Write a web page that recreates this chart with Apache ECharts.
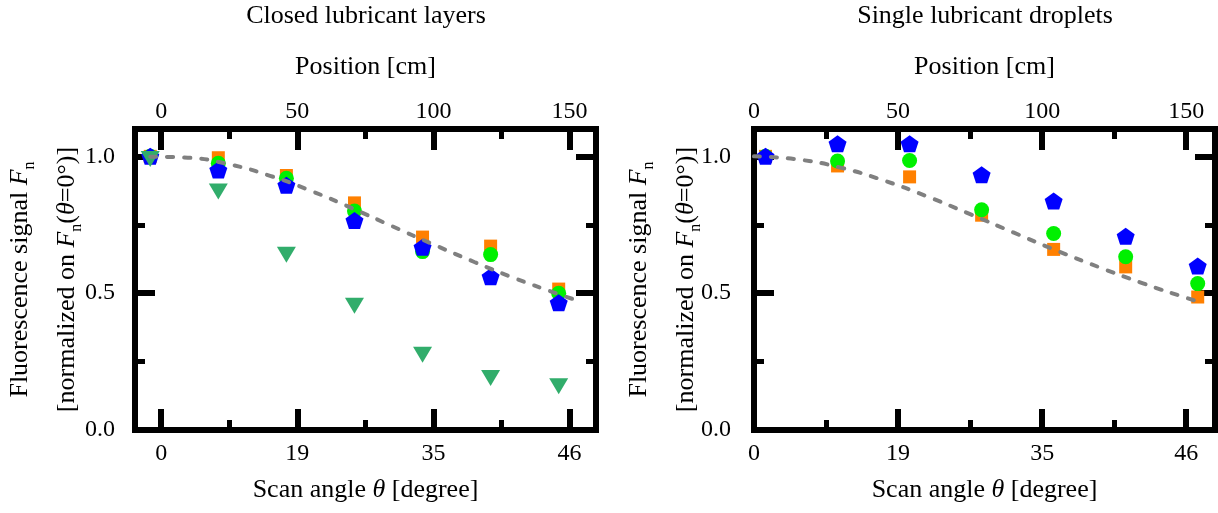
<!DOCTYPE html>
<html><head><meta charset="utf-8">
<script src="https://cdn.jsdelivr.net/npm/echarts@6/dist/echarts.min.js"></script>
<style>html,body{margin:0;padding:0;background:#fff}#c{width:1218px;height:513px}</style>
</head><body><div id="c"></div>
<script>
// ---- data ----
const panelTitles = ['Closed lubricant layers', 'Single lubricant droplets'];
const posTicks = [0, 50, 100, 150];
const posMinorTicks = [25, 75, 125];
const angleLabels = ['0', '19', '35', '46'];
const yTicks = [0, 0.5, 1.0];
const yMinorTicks = [0.25, 0.75];

// Closed lubricant layers (left)
const posLeft = [-4, 21, 46, 71, 96, 121, 146];
const leftSquares   = [1.000, 0.995, 0.930, 0.830, 0.705, 0.672, 0.515];
const leftCircles   = [1.000, 0.975, 0.920, 0.800, 0.652, 0.641, 0.500];
const leftPentagons = [1.000, 0.950, 0.894, 0.766, 0.668, 0.560, 0.465];
const leftTriangles = [0.990, 0.872, 0.640, 0.454, 0.275, 0.190, 0.160];
const curveLeftX = [-4, 10, 25, 40, 55, 70, 85, 100, 115, 130, 145, 152];
const curveLeftY = [0.999, 0.995, 0.971, 0.929, 0.874, 0.811, 0.744, 0.678, 0.614, 0.554, 0.500, 0.476];

// Single lubricant droplets (right)
const posRight = [4, 29, 54, 79, 104, 129, 154];
const rightSquares   = [1.000, 0.965, 0.925, 0.785, 0.660, 0.596, 0.486];
const rightCircles   = [1.000, 0.983, 0.985, 0.805, 0.718, 0.633, 0.535];
const rightPentagons = [1.000, 1.046, 1.046, 0.933, 0.837, 0.708, 0.599];
const curveRightX = [0, 15, 30, 45, 60, 75, 90, 105, 120, 135, 150, 156];
const curveRightY = [1.000, 0.989, 0.959, 0.912, 0.854, 0.789, 0.722, 0.656, 0.594, 0.536, 0.483, 0.464];

// ---- styling ----
const FF = "'Liberation Serif', 'Times New Roman', serif";
const BLACK = '#000';
const zip = (xs, ys) => xs.map((x, i) => [x, ys[i]]);
const pentagonPath = 'path://M0,-1 L0.951,-0.309 L0.588,0.809 L-0.588,0.809 L-0.951,-0.309 Z';

const richBase = {
  i: { fontFamily: FF, fontSize: 26, fontStyle: 'italic', color: BLACK },
  sub: { fontFamily: FF, fontSize: 16, color: BLACK, padding: [18, 0, 0, 0] }
};

const grids = [
  { left: 135, top: 129, width: 461, height: 301, xMin: -9.6, xMax: 159.7, yLabelMargin: 20 },
  { left: 754, top: 129, width: 461, height: 301, xMin: 0, xMax: 160, yLabelMargin: 23 }
];

const lineStyleFrame = { color: BLACK, width: 6, cap: 'square' };

function xAxesFor(gi, g) {
  const common = { type: 'value', gridIndex: gi, min: g.xMin, max: g.xMax, splitLine: { show: false }, nameMoveOverlap: false };
  const major = (position, labels) => Object.assign({}, common, {
    position,
    axisLine: { show: true, onZero: false, lineStyle: lineStyleFrame },
    axisTick: { show: true, inside: true, length: 21, lineStyle: { color: BLACK, width: 6 }, customValues: posTicks },
    axisLabel: labels
  });
  const minor = (position) => Object.assign({}, common, {
    position,
    axisLine: { show: false, onZero: false },
    axisTick: { show: true, inside: true, length: 10, lineStyle: { color: BLACK, width: 5 }, customValues: posMinorTicks },
    axisLabel: { show: false }
  });
  const bottom = major('bottom', {
    show: true, margin: 12, customValues: posTicks, color: BLACK, fontFamily: FF, fontSize: 24,
    formatter: v => angleLabels[posTicks.indexOf(v)]
  });
  bottom.name = 'Scan angle {i|θ} [degree]';
  bottom.nameLocation = 'middle';
  bottom.nameGap = 47;
  bottom.nameTextStyle = { color: BLACK, fontFamily: FF, fontSize: 26, lineHeight: 26, rich: richBase };
  const top = major('top', {
    show: true, margin: 5, customValues: posTicks, color: BLACK, fontFamily: FF, fontSize: 24,
    formatter: v => String(v)
  });
  top.name = 'Position [cm]';
  top.nameLocation = 'middle';
  top.nameGap = 49;
  top.nameTextStyle = { color: BLACK, fontFamily: FF, fontSize: 26, lineHeight: 26 };
  return [bottom, minor('bottom'), top, minor('top')];
}

function yAxesFor(gi, g) {
  const common = { type: 'value', gridIndex: gi, min: 0, max: 1.1, splitLine: { show: false }, nameMoveOverlap: false };
  const major = (position, labels) => Object.assign({}, common, {
    position,
    axisLine: { show: true, onZero: false, lineStyle: lineStyleFrame },
    axisTick: { show: true, inside: true, length: 20, lineStyle: { color: BLACK, width: 6 }, customValues: yTicks },
    axisLabel: labels
  });
  const minor = (position) => Object.assign({}, common, {
    position,
    axisLine: { show: false, onZero: false },
    axisTick: { show: true, inside: true, length: 10, lineStyle: { color: BLACK, width: 5 }, customValues: yMinorTicks },
    axisLabel: { show: false }
  });
  const left = major('left', {
    show: true, margin: g.yLabelMargin, customValues: yTicks, color: BLACK, fontFamily: FF, fontSize: 24,
    formatter: v => v.toFixed(1)
  });
  left.name = 'Fluorescence signal {i|F}{sub|n}\n[normalized on {i|F}{sub|n}({i|θ}=0°)]';
  left.nameLocation = 'middle';
  left.nameRotate = 90;
  left.nameGap = 44;
  left.nameTextStyle = {
    color: BLACK, fontFamily: FF, fontSize: 26, lineHeight: 47,
    rich: {
      i: Object.assign({ lineHeight: 47 }, richBase.i),
      sub: Object.assign({ lineHeight: 47 }, richBase.sub)
    }
  };
  const right = major('right', { show: false });
  return [left, minor('left'), right, minor('right')];
}

const xAxis = [], yAxis = [];
grids.forEach((g, gi) => { xAxis.push(...xAxesFor(gi, g)); yAxis.push(...yAxesFor(gi, g)); });

function scatter(gi, xs, ys, symbol, size, color, z, rotate) {
  return {
    type: 'scatter', xAxisIndex: gi * 4, yAxisIndex: gi * 4, data: zip(xs, ys),
    symbol, symbolSize: size, symbolRotate: rotate || 0,
    itemStyle: { color, opacity: 1 }, z, silent: true, animation: false
  };
}
function curve(gi, xs, ys) {
  return {
    type: 'line', xAxisIndex: gi * 4, yAxisIndex: gi * 4, data: zip(xs, ys),
    smooth: true, showSymbol: false, symbol: 'none', silent: true, animation: false, z: 6,
    lineStyle: { color: '#808080', width: 4, type: [6, 11], cap: 'round' }
  };
}

const series = [
  scatter(0, posLeft, leftSquares, 'rect', 13, '#FF8000', 2),
  scatter(0, posLeft, leftCircles, 'circle', 15, '#00F000', 3),
  scatter(0, posLeft, leftPentagons, pentagonPath, [18, 17], '#0000FF', 4),
  scatter(0, posLeft, leftTriangles, 'triangle', [19, 16], '#31AD6B', 5, 180),
  curve(0, curveLeftX, curveLeftY),
  scatter(1, posRight, rightSquares, 'rect', 13, '#FF8000', 2),
  scatter(1, posRight, rightCircles, 'circle', 15, '#00F000', 3),
  scatter(1, posRight, rightPentagons, pentagonPath, [18, 17], '#0000FF', 4),
  curve(1, curveRightX, curveRightY)
];

const chart = echarts.init(document.getElementById('c'), null, { renderer: 'canvas' });
chart.setOption({
  animation: false,
  backgroundColor: '#fff',
  grid: grids.map(g => ({ left: g.left, top: g.top, width: g.width, height: g.height, containLabel: false, outerBoundsMode: 'none' })),
  xAxis, yAxis, series,
  graphic: [
    { type: 'text', x: 366, y: 16, silent: true, style: { text: panelTitles[0], fill: BLACK, font: "26px " + FF, align: 'center', verticalAlign: 'middle' } },
    { type: 'text', x: 985, y: 16, silent: true, style: { text: panelTitles[1], fill: BLACK, font: "26px " + FF, align: 'center', verticalAlign: 'middle' } }
  ]
});
</script></body></html>
